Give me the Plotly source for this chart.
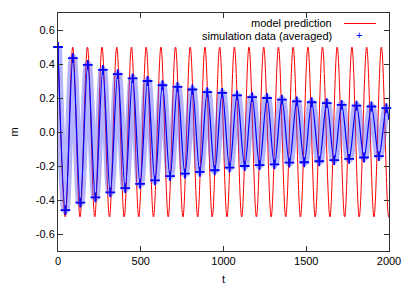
import plotly.graph_objects as go

# model prediction: extremes (t, m)
model_t = [0, 44, 89, 133, 178, 222, 266, 311, 355, 400, 444, 488, 533, 577, 622, 666,
           710, 755, 799, 844, 888, 932, 977, 1021, 1066, 1110, 1154, 1199, 1243, 1288,
           1332, 1376, 1421, 1465, 1510, 1554, 1598, 1643, 1687, 1732, 1776, 1820, 1865,
           1909, 1954, 1998, 2000]
model_m = [0.5, -0.5, 0.5, -0.5, 0.5, -0.5, 0.5, -0.5, 0.5, -0.5, 0.5, -0.5, 0.5, -0.5,
           0.5, -0.5, 0.5, -0.5, 0.5, -0.5, 0.5, -0.5, 0.5, -0.5, 0.5, -0.5, 0.5, -0.5,
           0.5, -0.5, 0.5, -0.5, 0.5, -0.5, 0.5, -0.5, 0.5, -0.5, 0.5, -0.5, 0.5, -0.5,
           0.5, -0.5, 0.5, -0.5, -0.5]

# simulation data (averaged): extremes (t, m)
sim_t = [0, 45, 90, 135, 180, 226, 271, 316, 361, 406, 451, 496, 541, 586, 631, 677,
         722, 767, 812, 857, 902, 947, 992, 1037, 1082, 1128, 1173, 1218, 1263, 1308,
         1353, 1398, 1443, 1488, 1533, 1579, 1624, 1669, 1714, 1759, 1804, 1849, 1894,
         1939, 1984, 2000]
sim_m = [0.50, -0.46, 0.435, -0.415, 0.395, -0.385, 0.365, -0.355, 0.34, -0.33, 0.315,
         -0.305, 0.30, -0.285, 0.275, -0.26, 0.265, -0.245, 0.25, -0.235, 0.235, -0.225,
         0.23, -0.21, 0.215, -0.20, 0.205, -0.195, 0.20, -0.19, 0.19, -0.18, 0.18,
         -0.178, 0.175, -0.172, 0.17, -0.165, 0.16, -0.158, 0.155, -0.15, 0.15, -0.142,
         0.14, 0.07]

x_ticks = [0, 500, 1000, 1500, 2000]
x_labels = ["0", "500", "1000", "1500", "2000"]
y_ticks = [-0.6, -0.4, -0.2, 0.0, 0.2, 0.4, 0.6]
y_labels = ["-0.6", "-0.4", "-0.2", "0.0", "0.2", "0.4", "0.6"]

FONT = "Liberation Sans, Arial, sans-serif"

fig = go.Figure()
fig.add_trace(go.Scatter(x=model_t, y=model_m, mode="lines", name="model prediction",
                         line=dict(color="rgb(255,0,0)", width=1, shape="spline", smoothing=1),
                         showlegend=False))
# light band of crosses
fig.add_trace(go.Scatter(x=sim_t, y=sim_m, mode="lines", name="simulation data (averaged)",
                         line=dict(color="rgba(70,70,255,0.4)", width=8, shape="spline", smoothing=1),
                         showlegend=False, cliponaxis=False))
fig.add_trace(go.Scatter(x=sim_t, y=sim_m, mode="lines", name="simulation data (averaged)",
                         line=dict(color="rgb(0,0,255)", width=1.2, shape="spline", smoothing=1),
                         showlegend=False, cliponaxis=False))
fig.add_trace(go.Scatter(x=sim_t[:-1], y=sim_m[:-1], mode="markers", name="simulation data (averaged)",
                         marker=dict(symbol="cross-thin", size=7, line=dict(color="rgb(0,0,255)", width=1.8)),
                         showlegend=False, cliponaxis=False))

axis_common = dict(showline=True, linecolor="#333333", linewidth=1, mirror="ticks",
                   ticks="inside", ticklen=5, tickcolor="#333333", showgrid=False,
                   zeroline=False, automargin=False,
                   tickfont=dict(family=FONT, size=11, color="black"))

fig.update_xaxes(range=[0, 2000], tickvals=x_ticks, ticktext=x_labels,
                 title=dict(text="t", font=dict(family=FONT, size=11, color="black"), standoff=9),
                 **axis_common)
fig.update_yaxes(range=[-0.7, 0.7], tickvals=y_ticks, ticktext=y_labels,
                 title=dict(text="m", font=dict(family=FONT, size=11, color="black"), standoff=14),
                 **axis_common)

# legend (gnuplot style: text right-aligned, sample on the right)
fig.add_annotation(xref="paper", yref="paper", x=0.834, y=0.958, text="model prediction",
                   showarrow=False, xanchor="right", yanchor="middle",
                   font=dict(family=FONT, size=11, color="black"))
fig.add_annotation(xref="paper", yref="paper", x=0.834, y=0.902, text="simulation data (averaged)",
                   showarrow=False, xanchor="right", yanchor="middle",
                   font=dict(family=FONT, size=11, color="black"))
fig.add_shape(type="line", xref="paper", yref="paper", x0=0.864, x1=0.961, y0=0.956, y1=0.956,
              line=dict(color="rgb(255,0,0)", width=1))
fig.add_annotation(xref="paper", yref="paper", x=0.909, y=0.906, text="+",
                   showarrow=False, xanchor="center", yanchor="middle",
                   font=dict(family=FONT, size=11, color="rgb(0,0,255)"))

fig.update_layout(width=407, height=286, margin=dict(l=58, r=18, t=13, b=35),
                  plot_bgcolor="white", paper_bgcolor="white",
                  font=dict(family=FONT, size=11, color="black"))

fig.write_html("out.html", config={"displayModeBar": False},
               post_script="document.body.style.margin='0';")
